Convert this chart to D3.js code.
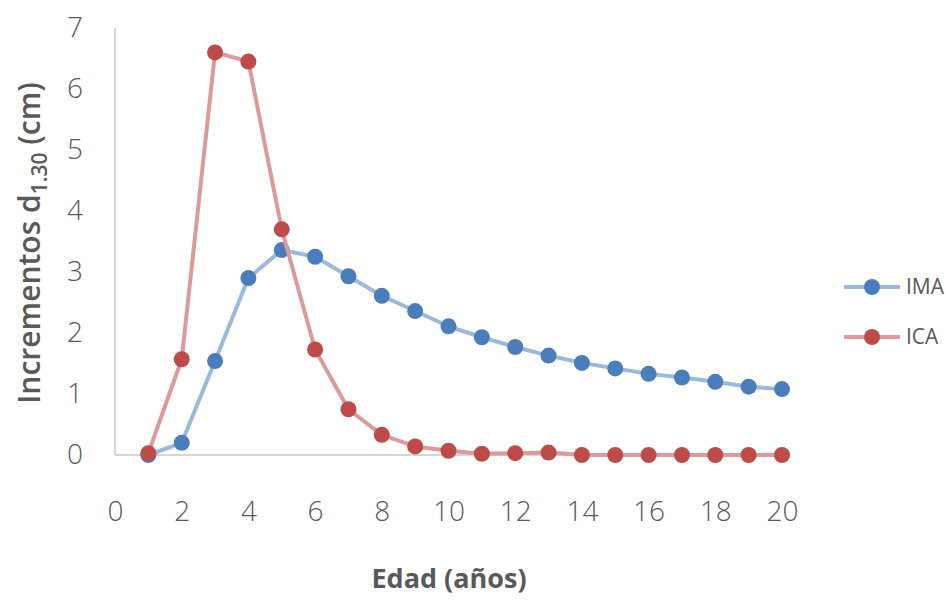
<!DOCTYPE html>
<html>
<head>
<meta charset="utf-8">
<script src="https://cdn.jsdelivr.net/npm/d3@7"></script>
<style>
  body { margin: 0; background: #fff; }
  text { font-family: "Open Sans", "Noto Sans", sans-serif; }
</style>
</head>
<body>
<script>
// Edad (años)
var edad = [1, 2, 3, 4, 5, 6, 7, 8, 9, 10, 11, 12, 13, 14, 15, 16, 17, 18, 19, 20];
// incremento medio anual
var ima = [0.0, 0.2, 1.54, 2.9, 3.36, 3.25, 2.93, 2.61, 2.36, 2.11, 1.93, 1.77, 1.63, 1.51, 1.42, 1.33, 1.27, 1.2, 1.12, 1.08];
// incremento corriente anual
var ica = [0.03, 1.57, 6.6, 6.45, 3.7, 1.73, 0.75, 0.33, 0.14, 0.07, 0.02, 0.03, 0.04, 0.0, 0.0, 0.0, 0.0, 0.0, 0.0, 0.0];
var seriesNames = ["IMA", "ICA"];
var xTicks = [0, 2, 4, 6, 8, 10, 12, 14, 16, 18, 20];
var yTicks = [0, 1, 2, 3, 4, 5, 6, 7];

var w = 946, h = 606;
var svg = d3.select("body").append("svg")
  .attr("width", w)
  .attr("height", h);

var x = d3.scaleLinear().domain([0, 20]).range([115, 782]);
var y = d3.scaleLinear().domain([0, 7]).range([455, 28]);

var colors = {
  IMA: { line: "#9bb9de", dot: "#4a7ebb" },
  ICA: { line: "#dc9a99", dot: "#be4b48" }
};

// axis lines
svg.append("line")
  .attr("x1", x(0)).attr("x2", x(0))
  .attr("y1", y(7)).attr("y2", y(0))
  .style("stroke", "#c8c8c8").style("stroke-width", 1.5);
svg.append("line")
  .attr("x1", x(0)).attr("x2", x(20) + 4)
  .attr("y1", y(0)).attr("y2", y(0))
  .style("stroke", "#c8c8c8").style("stroke-width", 1.5);

// tick labels
var yAxis = d3.axisLeft(y).tickValues(yTicks).tickFormat(d3.format("d")).tickSize(0).tickPadding(32);
var gy = svg.append("g").attr("transform", "translate(" + x(0) + ",0)").call(yAxis);
var xAxis = d3.axisBottom(x).tickValues(xTicks).tickFormat(d3.format("d")).tickSize(0).tickPadding(46);
var gx = svg.append("g").attr("transform", "translate(0," + y(0) + ")").call(xAxis);
[gy, gx].forEach(function(g){
  g.select(".domain").remove();
  g.selectAll("text")
    .style("font-size", "28px")
    .style("font-weight", "300")
    .style("fill", "#595959")
    .style("font-family", "'Open Sans', sans-serif");
});

// lines and markers
var line = d3.line()
  .x(function(d){ return x(d[0]); })
  .y(function(d){ return y(d[1]); });

var data = [
  { name: "IMA", values: d3.zip(edad, ima) },
  { name: "ICA", values: d3.zip(edad, ica) }
];

data.forEach(function(s){
  svg.append("path")
    .datum(s.values)
    .attr("d", line)
    .style("fill", "none")
    .style("stroke", colors[s.name].line)
    .style("stroke-width", 4)
    .style("stroke-linejoin", "round");
  svg.selectAll(".dot-" + s.name)
    .data(s.values)
    .enter()
    .append("circle")
    .attr("class", "dot-" + s.name)
    .attr("cx", function(d){ return x(d[0]); })
    .attr("cy", function(d){ return y(d[1]); })
    .attr("r", 8)
    .style("fill", colors[s.name].dot);
});

// legend
var legend = svg.selectAll(".legend")
  .data(seriesNames)
  .enter()
  .append("g")
  .attr("class", "legend")
  .attr("transform", function(d, i){ return "translate(844," + (287 + i * 50) + ")"; });
legend.append("line")
  .attr("x1", 0).attr("x2", 56)
  .attr("y1", 0).attr("y2", 0)
  .style("stroke", function(d){ return colors[d].line; })
  .style("stroke-width", 4);
legend.append("circle")
  .attr("cx", 28).attr("cy", 0).attr("r", 8)
  .style("fill", function(d){ return colors[d].dot; });
legend.append("text")
  .attr("x", 62).attr("y", 0).attr("dy", "0.35em")
  .style("font-size", "21px")
  .style("fill", "#595959")
  .text(function(d){ return d; });

// axis titles
svg.append("text")
  .attr("x", 449).attr("y", 588)
  .attr("text-anchor", "middle")
  .style("font-size", "27px")
  .style("font-weight", "bold")
  .style("fill", "#595959")
  .text("Edad (años)");

var yt = svg.append("text")
  .attr("transform", "translate(40,243) rotate(-90)")
  .attr("text-anchor", "middle")
  .style("font-size", "30px")
  .style("font-weight", "600")
  .style("fill", "#595959");
yt.append("tspan").text("Incrementos  d");
yt.append("tspan").attr("dy", 7).style("font-size", "21px").text("1.30");
yt.append("tspan").attr("dy", -7).text(" (cm)");
</script>
</body>
</html>
